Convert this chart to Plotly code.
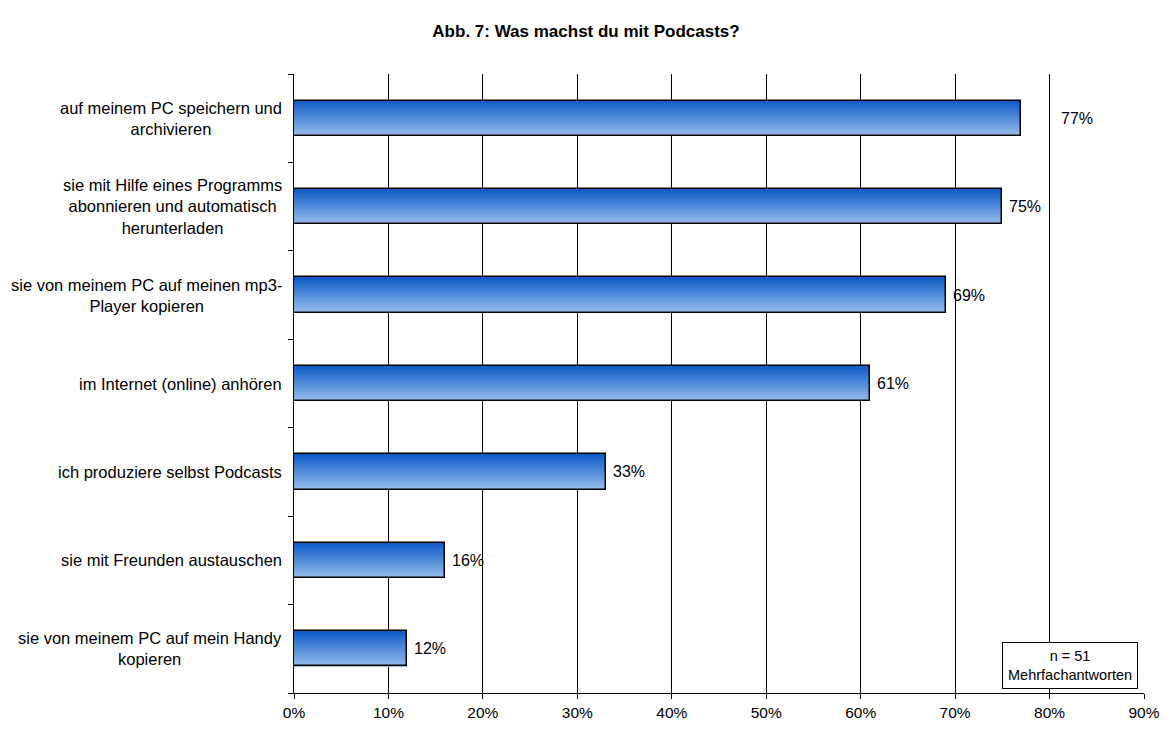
import plotly.graph_objects as go

categories = [
    "auf meinem PC speichern und<br>archivieren",
    "sie mit Hilfe eines Programms<br>abonnieren und automatisch<br>herunterladen",
    "sie von meinem PC auf meinen mp3-<br>Player kopieren",
    "im Internet (online) anhören",
    "ich produziere selbst Podcasts",
    "sie mit Freunden austauschen",
    "sie von meinem PC auf mein Handy<br>kopieren",
]
values = [77, 75, 69, 61, 33, 16, 12]
value_labels = ["77%", "75%", "69%", "61%", "33%", "16%", "12%"]
x_ticks = [0, 10, 20, 30, 40, 50, 60, 70, 80, 90]
x_ticklabels = ["0%", "10%", "20%", "30%", "40%", "50%", "60%", "70%", "80%", "90%"]
title = "Abb. 7: Was machst du mit Podcasts?"
note = "n = 51<br>Mehrfachantworten"

FONT = "Liberation Sans, Arial, sans-serif"
ids = list(range(len(categories)))

fig = go.Figure()

# gradient bars: stacked thin strips (dark top -> light bottom)
top_c = (16, 92, 200)
bot_c = (150, 188, 236)
n_strips = 24
bar_w = 0.40
step = bar_w / n_strips
for i in range(n_strips):
    t = i / (n_strips - 1)
    c = tuple(int(round(top_c[k] + (bot_c[k] - top_c[k]) * t)) for k in range(3))
    w = step * 1.6 if i < n_strips - 1 else step
    fig.add_trace(go.Bar(
        x=values, y=ids, orientation="h",
        offset=-bar_w / 2 + i * step, width=w,
        marker=dict(color="rgb(%d,%d,%d)" % c, line=dict(width=0)),
        hoverinfo="skip", showlegend=False,
    ))

# outline
fig.add_trace(go.Bar(
    x=values, y=ids, orientation="h",
    offset=-bar_w / 2, width=bar_w,
    marker=dict(color="rgba(0,0,0,0)", line=dict(color="black", width=1.5)),
    showlegend=False,
))

annotations = []
shifts = [38, 5, 5, 5, 5, 5, 5]
for i, (v, lab) in enumerate(zip(values, value_labels)):
    annotations.append(dict(
        x=v, y=i, xref="x", yref="y", text=lab, showarrow=False,
        xanchor="left", yanchor="middle", xshift=shifts[i],
        font=dict(family=FONT, size=16, color="black"),
    ))
for i, cat in enumerate(categories):
    annotations.append(dict(
        x=0, y=i, xref="paper", yref="y", text=cat, showarrow=False,
        xanchor="right", yanchor="middle", align="center", xshift=-10,
        font=dict(family=FONT, size=16.5, color="black"),
    ))
annotations.append(dict(
    x=82.2, y=0.044, xref="x", yref="paper", text=note, showarrow=False,
    xanchor="center", yanchor="middle", align="center",
    bordercolor="black", borderwidth=1, borderpad=5, bgcolor="white",
    font=dict(family=FONT, size=14.5, color="black"),
))

fig.update_layout(
    width=1172, height=733,
    margin=dict(l=294, r=23, t=74, b=32),
    paper_bgcolor="white", plot_bgcolor="white",
    barmode="overlay", bargap=0,
    title=dict(text="<b>%s</b>" % title, x=0.5, xanchor="center",
               y=1 - 31 / 733, yanchor="middle",
               font=dict(family=FONT, size=17, color="black")),
    annotations=annotations,
    font=dict(family=FONT, size=16, color="black"),
)
fig.update_xaxes(
    range=[0, 90], tickvals=x_ticks, ticktext=x_ticklabels,
    showgrid=True, gridcolor="black", gridwidth=1,
    showline=True, linecolor="black", linewidth=1,
    ticks="outside", ticklen=5, tickcolor="black",
    zeroline=False, tickfont=dict(family=FONT, size=15.5, color="black"),
)
fig.update_yaxes(
    range=[6.5, -0.5], tickvals=[i + 0.5 for i in range(-1, len(categories))],
    showticklabels=False, showgrid=False, zeroline=False,
    showline=True, linecolor="black", linewidth=1,
    ticks="outside", ticklen=5, tickcolor="black",
)

fig.write_html(
    "out.html",
    config={"displayModeBar": False},
    post_script="document.body.style.margin='0';document.body.style.overflow='hidden';",
)
